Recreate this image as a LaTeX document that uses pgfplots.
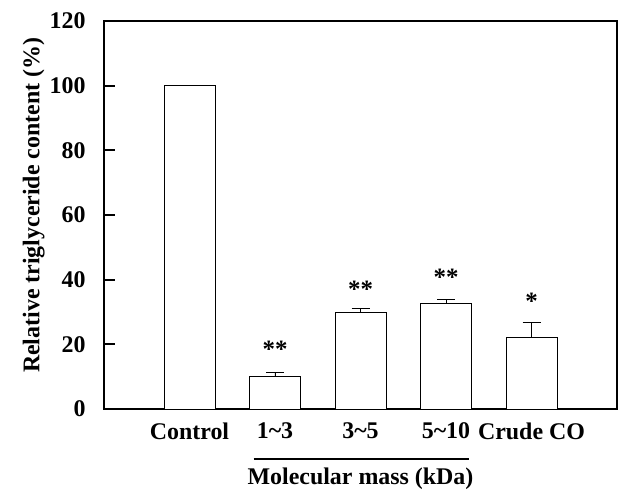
\documentclass[border=0pt]{standalone}
\usepackage{fontspec}
\setmainfont{Liberation Serif}
\usepackage{pgfplots}
\pgfplotsset{compat=1.18}

\newcommand{\lab}{\bfseries\fontsize{24}{28}\selectfont}

\begin{document}
\begin{tikzpicture}
\begin{axis}[
  width=513bp, height=388bp,
  scale only axis,
  xmin=-1, xmax=5,
  ymin=0, ymax=120,
  axis line style={line width=2.2bp},
  xtick=data,
  xticklabels={Control, 1\textasciitilde3, 3\textasciitilde5, 5\textasciitilde10, Crude CO},
  x tick style={draw=none},
  xticklabel style={font=\lab, yshift=-10bp},
  ytick={0,20,...,120},
  ytick pos=left,
  tick align=inside,
  major tick length=11bp,
  y tick style={line width=2bp, black},
  yticklabel style={font=\lab, xshift=-15bp},
  /pgf/number format/assume math mode=true,
  ylabel={Relative triglyceride content (\%)},
  ylabel style={font=\lab, at={(axis description cs:-0.137,0.525)}, anchor=center},
  bar width=0.595,
  clip=false,
]
% bars with upward error bars
\addplot[ybar, fill=white, draw=black, line width=0.8bp,
  error bars/.cd, y dir=plus, y explicit,
  error bar style={line width=0.8bp, black},
  error mark options={rotate=90, mark size=9bp, line width=0.8bp, black}]
  table[x=x, y=y, y error=e] {
  x y e
  0 100 0
  1 10.1 1.1
  2 29.9 1.1
  3 32.6 1.3
  4 22.0 4.8
};
% significance markers
\addplot[draw=none, mark=none, nodes near coords, point meta=explicit symbolic,
  every node near coord/.append style={anchor=center, yshift=-3.5bp,
    font=\bfseries\fontsize{25}{25}\selectfont}]
  table[x=x, y=y, meta=s] {
  x y s
  1 19.6 **
  2 38.0 **
  3 41.8 **
  4 34.4 *
};
\draw[line width=2.4bp] ([yshift=-50bp]axis cs:0.75,0) -- ([yshift=-50bp]axis cs:3.27,0);
\node[font=\lab] at ([yshift=-70bp]axis cs:2,0) {Molecular mass (kDa)};
\coordinate (bbA) at ([xshift=-104bp, yshift=-82bp]rel axis cs:0,0);
\coordinate (bbB) at ([xshift=17bp, yshift=21bp]rel axis cs:1,1);
\end{axis}
\pgfresetboundingbox
\path[use as bounding box] (bbA) rectangle (bbB);
\end{tikzpicture}
\end{document}
